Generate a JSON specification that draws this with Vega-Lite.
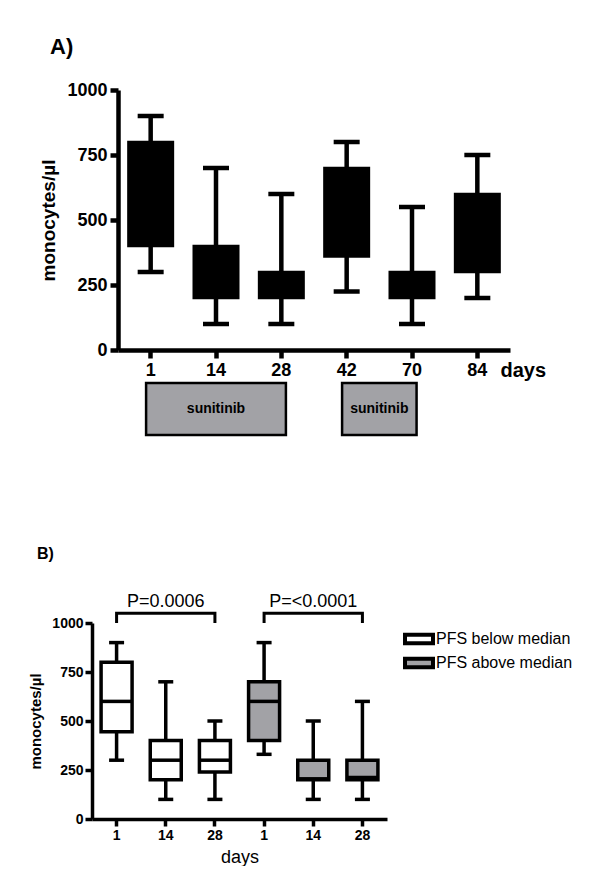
{
  "$schema": "https://vega.github.io/schema/vega-lite/v6.json",
  "padding": {"left": 28, "top": 36, "right": 0, "bottom": 0},
  "spacing": 109,
  "resolve": {"legend": {"fill": "independent"}},
  "config": {
    "view": {"stroke": null},
    "font": "Liberation Sans",
    "axis": {"grid": false, "domainColor": "black", "tickColor": "black", "labelColor": "black", "titleColor": "black"},
    "title": {"color": "black"},
    "legend": {"labelColor": "black"}
  },
  "datasets": {
    "a": [
      {"day": "1", "low": 300, "q1": 395, "q3": 805, "high": 900},
      {"day": "14", "low": 100, "q1": 195, "q3": 405, "high": 700},
      {"day": "28", "low": 100, "q1": 195, "q3": 305, "high": 600},
      {"day": "42", "low": 225, "q1": 355, "q3": 705, "high": 800},
      {"day": "70", "low": 100, "q1": 195, "q3": 305, "high": 550},
      {"day": "84", "low": 200, "q1": 295, "q3": 605, "high": 750}
    ],
    "sunitinib": [
      {"start": "1", "end": "28", "lane": "sunitinib", "label": "sunitinib"},
      {"start": "42", "end": "70", "lane": "sunitinib", "label": "sunitinib"}
    ],
    "b": [
      {"slot": "b1", "group": "PFS below median", "low": 300, "q1": 445, "median": 600, "q3": 800, "high": 900},
      {"slot": "b14", "group": "PFS below median", "low": 100, "q1": 200, "median": 300, "q3": 400, "high": 700},
      {"slot": "b28", "group": "PFS below median", "low": 100, "q1": 240, "median": 300, "q3": 400, "high": 500},
      {"slot": "a1", "group": "PFS above median", "low": 330, "q1": 400, "median": 600, "q3": 700, "high": 900},
      {"slot": "a14", "group": "PFS above median", "low": 100, "q1": 200, "median": 205, "q3": 300, "high": 500},
      {"slot": "a28", "group": "PFS above median", "low": 100, "q1": 200, "median": 212, "q3": 300, "high": 600}
    ],
    "brackets": [
      {"pair": "p1", "slot": "b1", "y": 1000, "o": 1},
      {"pair": "p1", "slot": "b1", "y": 1050, "o": 2},
      {"pair": "p1", "slot": "b28", "y": 1050, "o": 3},
      {"pair": "p1", "slot": "b28", "y": 1000, "o": 4},
      {"pair": "p2", "slot": "a1", "y": 1000, "o": 1},
      {"pair": "p2", "slot": "a1", "y": 1050, "o": 2},
      {"pair": "p2", "slot": "a28", "y": 1050, "o": 3},
      {"pair": "p2", "slot": "a28", "y": 1000, "o": 4}
    ],
    "pvals": [
      {"slot": "b14", "y": 1050, "label": "P=0.0006"},
      {"slot": "a14", "y": 1050, "label": "P=<0.0001"}
    ]
  },
  "vconcat": [
    {
      "width": 392,
      "height": 260,
      "title": {"text": "A)", "anchor": "start", "frame": "group", "dx": -68, "fontSize": 22, "fontWeight": "bold", "offset": 22},
      "resolve": {"scale": {"y": "independent"}},
      "layer": [
        {
          "data": {"name": "a"},
          "encoding": {
            "x": {
              "field": "day", "type": "ordinal",
              "scale": {"type": "band", "domain": ["1", "14", "28", "42", "70", "84"], "paddingInner": 0, "paddingOuter": 0},
              "axis": {
                "title": "days", "titleX": 382, "titleY": 26, "titleAlign": "left", "titleBaseline": "alphabetic",
                "titleFontSize": 20, "titleFontWeight": "bold", "titleAngle": 0,
                "labelAngle": 0, "labelFontSize": 18, "labelFontWeight": "bold", "labelPadding": 3,
                "tickSize": 8, "tickWidth": 4.5, "domainWidth": 4.5
              }
            }
          },
          "layer": [
            {
              "mark": {"type": "rule", "color": "black", "strokeWidth": 4.5},
              "encoding": {
                "y": {
                  "field": "low", "type": "quantitative", "scale": {"domain": [0, 1000], "nice": false},
                  "axis": {
                    "values": [0, 250, 500, 750, 1000], "format": "d", "title": "monocytes/µl", "titleFontSize": 19, "titleFontWeight": "bold",
                    "titlePadding": 8, "labelFontSize": 18, "labelFontWeight": "bold", "labelPadding": 3,
                    "tickSize": 8, "tickWidth": 4.5, "domainWidth": 4.5
                  }
                },
                "y2": {"field": "high"}
              }
            },
            {
              "mark": {"type": "tick", "color": "black", "size": 26, "thickness": 4.5, "opacity": 1},
              "encoding": {"y": {"field": "high", "type": "quantitative"}}
            },
            {
              "mark": {"type": "tick", "color": "black", "size": 26, "thickness": 4.5, "opacity": 1},
              "encoding": {"y": {"field": "low", "type": "quantitative"}}
            },
            {
              "mark": {"type": "bar", "color": "black", "width": 47},
              "encoding": {"y": {"field": "q1", "type": "quantitative"}, "y2": {"field": "q3"}}
            }
          ]
        },
        {
          "data": {"name": "sunitinib"},
          "encoding": {
            "y": {"field": "lane", "type": "nominal", "scale": {"range": [293, 345], "paddingInner": 0, "paddingOuter": 0}, "axis": null}
          },
          "layer": [
            {
              "mark": {"type": "rect", "fill": "#a2a2a6", "stroke": "black", "strokeWidth": 2.5},
              "encoding": {
                "x": {"field": "start", "type": "ordinal", "bandPosition": 0.43},
                "x2": {"field": "end", "bandPosition": 0.57}
              }
            },
            {
              "transform": [{"filter": "datum.start == '1'"}],
              "mark": {"type": "text", "fontSize": 14, "fontWeight": "bold", "baseline": "middle", "color": "black"},
              "encoding": {
                "x": {"field": "start", "type": "ordinal", "bandPosition": 1.5},
                "text": {"field": "label"}
              }
            },
            {
              "transform": [{"filter": "datum.start == '42'"}],
              "mark": {"type": "text", "fontSize": 14, "fontWeight": "bold", "baseline": "middle", "color": "black"},
              "encoding": {
                "x": {"field": "start", "type": "ordinal", "bandPosition": 1},
                "text": {"field": "label"}
              }
            }
          ]
        }
      ]
    },
    {
      "width": 269,
      "height": 196,
      "title": {"text": "B)", "anchor": "start", "frame": "group", "dx": -81, "fontSize": 16, "fontWeight": "bold", "offset": 31},
      "encoding": {
        "x": {
          "field": "slot", "type": "ordinal",
          "scale": {"type": "band", "domain": ["b1", "b14", "b28", "a1", "a14", "a28"], "range": [-26, 269], "paddingInner": 0, "paddingOuter": 0},
          "axis": {
            "labelExpr": "substring(datum.label, 1)", "title": "days", "titleFontSize": 18, "titleFontWeight": "normal", "titlePadding": 6,
            "labelAngle": 0, "labelFontSize": 14, "labelFontWeight": "bold", "labelPadding": 2,
            "tickSize": 7, "tickWidth": 3.5, "domainWidth": 3.5
          }
        }
      },
      "layer": [
        {
          "data": {"name": "b"},
          "mark": {"type": "rule", "color": "black", "strokeWidth": 3.5},
          "encoding": {
            "y": {
              "field": "low", "type": "quantitative", "scale": {"domain": [0, 1000], "nice": false},
              "axis": {
                "values": [0, 250, 500, 750, 1000], "format": "d", "offset": 26, "title": "monocytes/µl", "titleFontSize": 15, "titleFontWeight": "bold",
                "titlePadding": 8, "labelFontSize": 14, "labelFontWeight": "bold", "labelPadding": 2,
                "tickSize": 7, "tickWidth": 3.5, "domainWidth": 3.5
              }
            },
            "y2": {"field": "high"}
          }
        },
        {
          "data": {"name": "b"},
          "mark": {"type": "tick", "color": "black", "size": 15, "thickness": 3.5, "opacity": 1},
          "encoding": {"y": {"field": "high", "type": "quantitative"}}
        },
        {
          "data": {"name": "b"},
          "mark": {"type": "tick", "color": "black", "size": 15, "thickness": 3.5, "opacity": 1},
          "encoding": {"y": {"field": "low", "type": "quantitative"}}
        },
        {
          "data": {"name": "b"},
          "mark": {"type": "bar", "width": 31, "stroke": "black", "strokeWidth": 3.5, "opacity": 1},
          "encoding": {
            "y": {"field": "q1", "type": "quantitative"},
            "y2": {"field": "q3"},
            "fill": {
              "field": "group", "type": "nominal",
              "scale": {"domain": ["PFS below median", "PFS above median"], "range": ["white", "#a2a2a6"]},
              "legend": {
                "orient": "none", "legendX": 290, "legendY": 5, "title": null,
                "symbolType": "M-1.6,-0.5H1.6V0.5H-1.6Z", "symbolSize": 306,
                "symbolStrokeColor": "black", "symbolStrokeWidth": 4,
                "labelFontSize": 16, "labelOffset": 6, "rowPadding": -2.5
              }
            }
          }
        },
        {
          "data": {"name": "b"},
          "mark": {"type": "tick", "color": "black", "size": 31, "thickness": 3.5, "opacity": 1},
          "encoding": {"y": {"field": "median", "type": "quantitative"}}
        },
        {
          "data": {"name": "brackets"},
          "mark": {"type": "line", "color": "black", "strokeWidth": 3},
          "encoding": {
            "y": {"field": "y", "type": "quantitative"},
            "detail": {"field": "pair"},
            "order": {"field": "o"}
          }
        },
        {
          "data": {"name": "pvals"},
          "mark": {"type": "text", "fontSize": 18, "baseline": "alphabetic", "dy": -6, "color": "black"},
          "encoding": {
            "y": {"field": "y", "type": "quantitative"},
            "text": {"field": "label"}
          }
        }
      ]
    }
  ]
}
